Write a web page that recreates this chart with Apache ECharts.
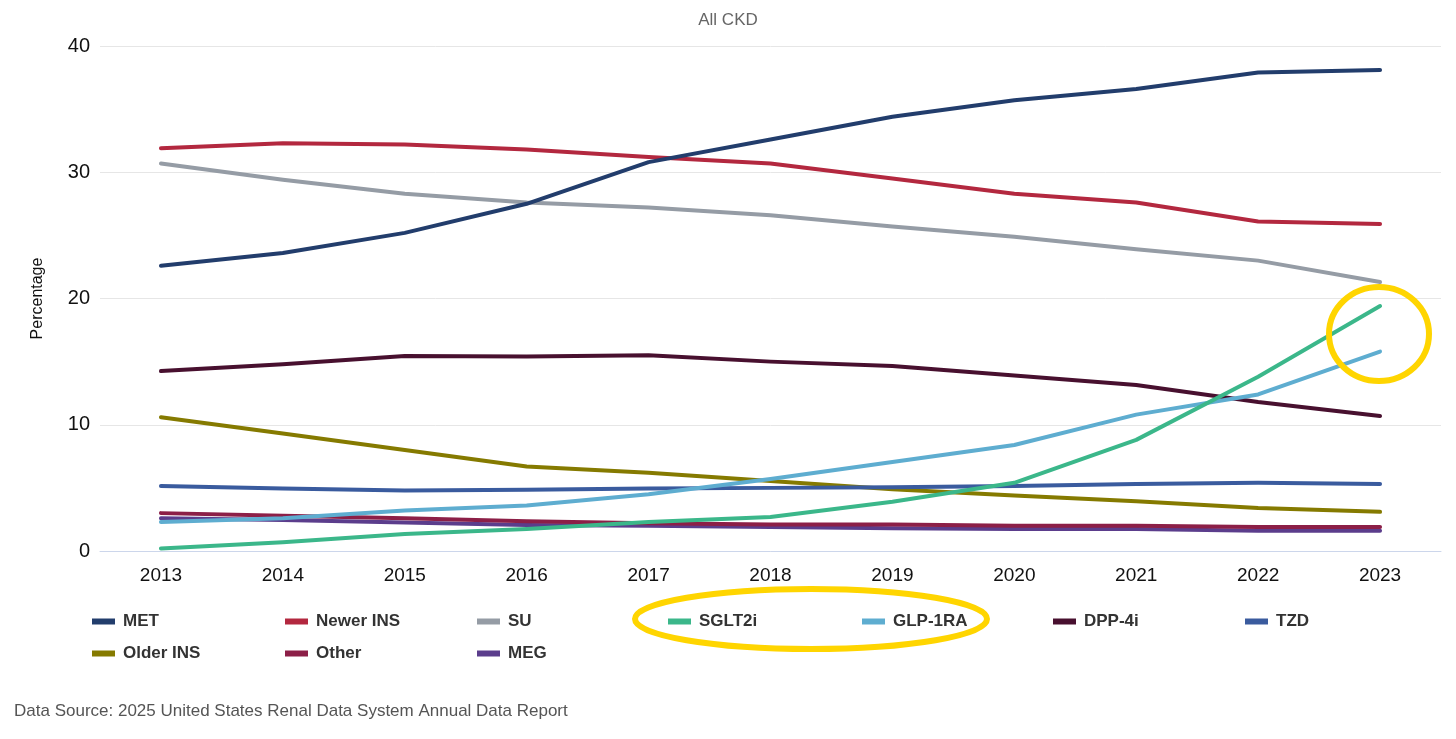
<!DOCTYPE html>
<html><head><meta charset="utf-8">
<script src="https://cdn.jsdelivr.net/npm/echarts@6/dist/echarts.min.js"></script>
<style>html,body{margin:0;padding:0;background:#fff}#c{width:1456px;height:739px}</style>
</head><body><div id="c"></div>
<script>
const years = ['2013','2014','2015','2016','2017','2018','2019','2020','2021','2022','2023'];
const yTicks = [0,10,20,30,40];
const seriesNames = ['MET','Newer INS','SU','SGLT2i','GLP-1RA','DPP-4i','TZD','Older INS','Other','MEG'];
const MET      = [22.6,23.6,25.2,27.5,30.8,32.6,34.4,35.7,36.6,37.9,38.1];
const NewerINS = [31.9,32.3,32.2,31.8,31.2,30.7,29.5,28.3,27.6,26.1,25.9];
const SU       = [30.7,29.4,28.3,27.6,27.2,26.6,25.7,24.9,23.9,23.0,21.3];
const SGLT2i   = [0.2,0.7,1.35,1.75,2.3,2.7,3.9,5.4,8.8,13.8,19.4];
const GLP1RA   = [2.3,2.6,3.2,3.6,4.5,5.7,7.05,8.4,10.8,12.4,15.8];
const DPP4i    = [14.25,14.8,15.45,15.4,15.5,15.0,14.65,13.9,13.15,11.8,10.7];
const TZD      = [5.15,4.95,4.8,4.85,4.95,5.0,5.05,5.15,5.3,5.4,5.3];
const OlderINS = [10.6,9.3,8.0,6.7,6.2,5.55,4.9,4.4,3.95,3.4,3.1];
const Other    = [3.0,2.8,2.6,2.35,2.2,2.1,2.1,2.0,2.0,1.9,1.9];
const MEG      = [2.6,2.45,2.25,2.05,2.0,1.9,1.8,1.75,1.75,1.6,1.6];
const seriesData = [MET,NewerINS,SU,SGLT2i,GLP1RA,DPP4i,TZD,OlderINS,Other,MEG];
const colors = ['#223d6c','#b3283f','#959ca5','#3bb78a','#5eadd0','#48102f','#3a5b9e','#857a00','#8c1f47','#5b3d8c'];

const FONT = 'Liberation Sans, Arial, sans-serif';
const legendPos = [[92,619],[285,619],[477,619],[668,619],[862,619],[1053,619],[1245,619],[92,651],[285,651],[477,651]];
const legends = seriesNames.map((n,i)=>({
  data:[n], left:legendPos[i][0]-5, top:legendPos[i][1]-11, orient:'horizontal',
  itemWidth:23, itemHeight:6, itemGap:6, icon:'rect', selectedMode:false,
  textStyle:{fontFamily:FONT, fontSize:17, fontWeight:'bold', color:'#333', padding:[0,0,0,3]}
}));

const chart = echarts.init(document.getElementById('c'));
chart.setOption({
  backgroundColor:'#fff',
  animation:false,
  color: colors,
  title:{text:'All CKD', left:'center', top:7, textStyle:{fontFamily:FONT, fontSize:17, fontWeight:'normal', color:'#666'}},
  legend: legends,
  grid:{left:100, right:15, top:46, bottom:188},
  xAxis:{type:'category', data:years, boundaryGap:true,
    axisLine:{lineStyle:{color:'#ccd6eb', width:1}}, axisTick:{show:false},
    axisLabel:{fontFamily:FONT, fontSize:19, color:'#111', margin:15}},
  yAxis:{type:'value', min:yTicks[0], max:yTicks[yTicks.length-1], interval:10,
    name:'Percentage', nameLocation:'middle', nameGap:54, nameRotate:90,
    nameTextStyle:{fontFamily:FONT, fontSize:16, color:'#111'},
    axisLine:{show:false}, axisTick:{show:false},
    splitLine:{lineStyle:{color:'#e6e6e6', width:1}},
    axisLabel:{fontFamily:FONT, fontSize:20, color:'#111', margin:10}},
  series: seriesNames.map((n,i)=>({
    name:n, type:'line', data:seriesData[i], showSymbol:false, symbol:'none',
    lineStyle:{width:4, cap:'round', join:'round', color:colors[i]}, itemStyle:{color:colors[i]},
    z: 10-i
  })),
  graphic:[
    {type:'ellipse', shape:{cx:1379, cy:334, rx:50, ry:47}, style:{fill:'none', stroke:'#ffd500', lineWidth:6}, z:100},
    {type:'ellipse', shape:{cx:811, cy:619, rx:176, ry:30}, style:{fill:'none', stroke:'#ffd500', lineWidth:6}, z:100},
    {type:'text', left:14, top:703, style:{text:'Data Source: 2025 United States Renal Data System Annual Data Report', font:'17px "Liberation Sans", Arial, sans-serif', fill:'#555'}}
  ]
});
</script></body></html>
